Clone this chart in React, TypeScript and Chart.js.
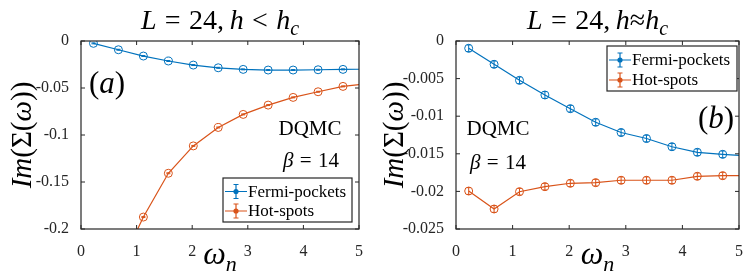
import React, { useEffect, useRef } from "react";
import { Chart, registerables } from "chart.js";
Chart.register(...registerables);

// Matsubara frequencies (beta = 14)
const omegaN = [0.224, 0.673, 1.122, 1.571, 2.02, 2.468, 2.917, 3.366, 3.815, 4.264, 4.712, 5.161];

// Panel (a): h < hc
const fermiA: (number | null)[] = [-0.0025, -0.0093, -0.016, -0.0213, -0.0256, -0.0285, -0.0302, -0.0309, -0.0309, -0.0306, -0.0302, -0.0300];
const hotA: (number | null)[] = [null, -0.243, -0.1873, -0.1407, -0.1116, -0.092, -0.0781, -0.0682, -0.06, -0.054, -0.0483, -0.0455];
const errA = [0.0005, 0.0005, 0.0005, 0.0005, 0.0005, 0.0005, 0.0005, 0.0005, 0.0005, 0.0005, 0.0005, 0.0005];

// Panel (b): h ~ hc
const fermiB: (number | null)[] = [-0.00097, -0.0031, -0.00523, -0.00718, -0.009, -0.01081, -0.01217, -0.01297, -0.01406, -0.0148, -0.01507, -0.0153];
const hotB: (number | null)[] = [-0.01995, -0.02234, -0.02004, -0.01937, -0.01892, -0.01884, -0.01852, -0.01852, -0.01852, -0.01799, -0.01791, -0.0179];
const errB = [0.00045, 0.00045, 0.00045, 0.00045, 0.00045, 0.00045, 0.00045, 0.00045, 0.00045, 0.00045, 0.00045, 0.00045];

const xTicks = [0, 1, 2, 3, 4, 5];
const yTicksA = [-0.2, -0.15, -0.1, -0.05, 0];
const yTicksB = [-0.025, -0.02, -0.015, -0.01, -0.005, 0];
const seriesNames = ["Fermi-pockets", "Hot-spots"];

const BLUE = "#0072BD";
const ORANGE = "#D95319";
const AXIS = "#262626";
const FAM = "Liberation Serif";

type Seg = { t: string; it?: boolean; sub?: boolean; gap?: number };

function segFont(s: Seg, size: number) {
  const sz = Math.round(s.sub ? size * 0.7 : size);
  return `${s.it ? "italic " : ""}${sz}px ${FAM}`;
}
function richWidth(ctx: CanvasRenderingContext2D, segs: Seg[], size: number) {
  let w = 0;
  for (const s of segs) {
    ctx.font = segFont(s, size);
    w += ctx.measureText(s.t).width + (s.gap || 0) * size;
  }
  return w;
}
function drawRich(ctx: CanvasRenderingContext2D, segs: Seg[], x: number, baseline: number, size: number, align: "center" | "left") {
  const w = richWidth(ctx, segs, size);
  let cx = align === "center" ? x - w / 2 : x;
  ctx.textAlign = "left";
  ctx.textBaseline = "alphabetic";
  for (const s of segs) {
    ctx.font = segFont(s, size);
    ctx.fillText(s.t, cx, baseline + (s.sub ? size * 0.22 : 0));
    cx += ctx.measureText(s.t).width + (s.gap || 0) * size;
  }
}

type PanelCfg = {
  fermi: (number | null)[];
  hot: (number | null)[];
  err: number[];
  yTicks: number[];
  yMin: number;
  yMax: number;
  yWidth: number;
  padRight: number;
  title: Seg[];
  tag: Seg[];
  tagPos: [number, number];
  dqmcPos: [number, number];
  betaPos: [number, number];
  ylabX: number;
  legend: { x: number; y: number; w: number; h: number; rows: [number, number] };
};

function makeConfig(p: PanelCfg): any {
  const toPts = (vals: (number | null)[]) =>
    omegaN.map((x, i) => ({ x, y: vals[i] })).filter((d) => d.y !== null);
  const ds = (vals: (number | null)[], color: string) => ({
    data: toPts(vals),
    borderColor: color,
    backgroundColor: color,
    borderWidth: 1.2,
    pointRadius: 4,
    pointBorderWidth: 1,
    pointBorderColor: color,
    pointBackgroundColor: "rgba(0,0,0,0)",
    tension: 0,
  });

  const plugin = {
    id: "panelDecor",
    afterDatasetsDraw(chart: any) {
      const ctx: CanvasRenderingContext2D = chart.ctx;
      const { left, right, top, bottom } = chart.chartArea;
      const xs = chart.scales.x;
      const ys = chart.scales.y;
      ctx.save();
      ctx.beginPath();
      ctx.rect(left, top, right - left, bottom - top);
      ctx.clip();
      [p.fermi, p.hot].forEach((vals, k) => {
        ctx.strokeStyle = k === 0 ? BLUE : ORANGE;
        ctx.lineWidth = 1;
        vals.forEach((v, i) => {
          if (v === null) return;
          const px = xs.getPixelForValue(omegaN[i]);
          const y1 = ys.getPixelForValue(v + p.err[i]);
          const y2 = ys.getPixelForValue(v - p.err[i]);
          ctx.beginPath();
          ctx.moveTo(px, y1);
          ctx.lineTo(px, y2);
          ctx.moveTo(px - 2, y1);
          ctx.lineTo(px + 2, y1);
          ctx.moveTo(px - 2, y2);
          ctx.lineTo(px + 2, y2);
          ctx.stroke();
        });
      });
      ctx.restore();

      ctx.save();
      ctx.strokeStyle = AXIS;
      ctx.lineWidth = 1.2;
      ctx.strokeRect(left, top, right - left, bottom - top);
      ctx.lineWidth = 1;
      const tl = 4;
      ctx.beginPath();
      xTicks.forEach((v) => {
        const px = xs.getPixelForValue(v);
        ctx.moveTo(px, bottom);
        ctx.lineTo(px, bottom - tl);
        ctx.moveTo(px, top);
        ctx.lineTo(px, top + tl);
      });
      p.yTicks.forEach((v) => {
        const py = ys.getPixelForValue(v);
        ctx.moveTo(left, py);
        ctx.lineTo(left + tl, py);
        ctx.moveTo(right, py);
        ctx.lineTo(right - tl, py);
      });
      ctx.stroke();
      ctx.restore();
    },
    afterDraw(chart: any) {
      const ctx: CanvasRenderingContext2D = chart.ctx;
      const { left, right, top, bottom } = chart.chartArea;
      const cx = (left + right) / 2;
      ctx.save();
      ctx.fillStyle = "#000";
      drawRich(ctx, p.title, cx, 29, 28, "center");
      drawRich(ctx, [{ t: "ω", it: true }, { t: "n", it: true, sub: true }], cx, 264, 32, "center");
      ctx.save();
      ctx.translate(p.ylabX, (top + bottom) / 2);
      ctx.rotate(-Math.PI / 2);
      drawRich(
        ctx,
        [
          { t: "Im", it: true },
          { t: "(Σ(" },
          { t: "ω", it: true },
          { t: "))" },
        ],
        0,
        9,
        29,
        "center"
      );
      ctx.restore();
      drawRich(ctx, p.tag, p.tagPos[0], p.tagPos[1], 31, "center");
      drawRich(ctx, [{ t: "DQMC" }], p.dqmcPos[0], p.dqmcPos[1], 21, "center");
      drawRich(
        ctx,
        [{ t: "β", it: true, gap: 0.3 }, { t: "=", gap: 0.3 }, { t: "14" }],
        p.betaPos[0],
        p.betaPos[1],
        21,
        "center"
      );
      const L = p.legend;
      ctx.fillStyle = "#fff";
      ctx.fillRect(L.x, L.y, L.w, L.h);
      ctx.strokeStyle = AXIS;
      ctx.lineWidth = 1.2;
      ctx.strokeRect(L.x, L.y, L.w, L.h);
      [BLUE, ORANGE].forEach((c, k) => {
        const ry = L.rows[k];
        const x0 = L.x + 2;
        const x1 = L.x + 24;
        const xm = (x0 + x1) / 2;
        ctx.strokeStyle = c;
        ctx.lineWidth = 1.2;
        ctx.beginPath();
        ctx.moveTo(x0, ry);
        ctx.lineTo(x1, ry);
        ctx.moveTo(xm, ry - 7);
        ctx.lineTo(xm, ry + 7);
        ctx.moveTo(xm - 2.5, ry - 7);
        ctx.lineTo(xm + 2.5, ry - 7);
        ctx.moveTo(xm - 2.5, ry + 7);
        ctx.lineTo(xm + 2.5, ry + 7);
        ctx.stroke();
        ctx.fillStyle = c;
        ctx.beginPath();
        ctx.arc(xm, ry, 2.6, 0, Math.PI * 2);
        ctx.fill();
        ctx.fillStyle = "#000";
        ctx.font = `17px ${FAM}`;
        ctx.textAlign = "left";
        ctx.textBaseline = "middle";
        ctx.fillText(seriesNames[k], x1 + 1, ry + 1);
      });
      ctx.restore();
    },
  };

  return {
    type: "line",
    data: {
      datasets: [
        { label: seriesNames[0], ...ds(p.fermi, BLUE) },
        { label: seriesNames[1], ...ds(p.hot, ORANGE) },
      ],
    },
    options: {
      animation: false,
      responsive: false,
      devicePixelRatio: 1,
      layout: { padding: { left: 0, right: p.padRight, top: 41, bottom: 0 } },
      plugins: {
        legend: { display: false },
        title: { display: false },
        tooltip: { enabled: false },
      },
      scales: {
        x: {
          type: "linear",
          min: 0,
          max: 5,
          afterBuildTicks: (s: any) => {
            s.ticks = xTicks.map((v) => ({ value: v }));
          },
          afterFit: (s: any) => {
            s.height = 44;
          },
          grid: { display: false },
          border: { display: false },
          ticks: {
            padding: 5,
            autoSkip: false,
            maxRotation: 0,
            color: AXIS,
            font: { family: FAM, size: 16 },
            callback: (v: any) => String(v),
          },
        },
        y: {
          type: "linear",
          min: p.yMin,
          max: p.yMax,
          afterBuildTicks: (s: any) => {
            s.ticks = p.yTicks.map((v) => ({ value: v }));
          },
          afterFit: (s: any) => {
            s.width = p.yWidth;
          },
          grid: { display: false },
          border: { display: false },
          ticks: {
            padding: 4,
            autoSkip: false,
            color: AXIS,
            font: { family: FAM, size: 16 },
            callback: (v: any) => String(v),
          },
        },
      },
    },
    plugins: [plugin],
  };
}

const panelA: PanelCfg = {
  fermi: fermiA,
  hot: hotA,
  err: errA,
  yTicks: yTicksA,
  yMin: -0.2,
  yMax: 0,
  yWidth: 81,
  padRight: 15,
  title: [
    { t: "L", it: true, gap: 0.3 },
    { t: "=", gap: 0.3 },
    { t: "24,", gap: 0.2 },
    { t: "h", it: true, gap: 0.3 },
    { t: "<", gap: 0.3 },
    { t: "h", it: true },
    { t: "c", it: true, sub: true },
  ],
  tag: [{ t: "(" }, { t: "a", it: true }, { t: ")" }],
  tagPos: [107, 93],
  dqmcPos: [310, 135],
  betaPos: [311, 167],
  ylabX: 22,
  legend: { x: 223, y: 178, w: 129, h: 44, rows: [191.5, 211] },
};

const panelB: PanelCfg = {
  fermi: fermiB,
  hot: hotB,
  err: errB,
  yTicks: yTicksB,
  yMin: -0.025,
  yMax: 0,
  yWidth: 82,
  padRight: 5,
  title: [
    { t: "L", it: true, gap: 0.3 },
    { t: "=", gap: 0.3 },
    { t: "24,", gap: 0.2 },
    { t: "h", it: true },
    { t: "≈" },
    { t: "h", it: true },
    { t: "c", it: true, sub: true },
  ],
  tag: [{ t: "(" }, { t: "b", it: true }, { t: ")" }],
  tagPos: [342, 128],
  dqmcPos: [124, 135],
  betaPos: [124, 169],
  ylabX: 20,
  legend: { x: 233, y: 46, w: 130, h: 45, rows: [60, 80] },
};

function Panel({ cfg, left }: { cfg: PanelCfg; left: number }) {
  const ref = useRef<HTMLCanvasElement | null>(null);
  useEffect(() => {
    if (!ref.current) return;
    Chart.defaults.font.family = FAM;
    const chart = new Chart(ref.current, makeConfig(cfg));
    return () => {
      chart.destroy();
    };
  }, [cfg]);
  return (
    <canvas
      ref={ref}
      width={374}
      height={273}
      style={{ position: "absolute", left, top: 0, width: 374, height: 273 }}
    />
  );
}

export default function App() {
  return (
    <div style={{ position: "fixed", left: 0, top: 0, width: 748, height: 273, background: "#fff" }}>
      <Panel cfg={panelA} left={0} />
      <Panel cfg={panelB} left={374} />
    </div>
  );
}
